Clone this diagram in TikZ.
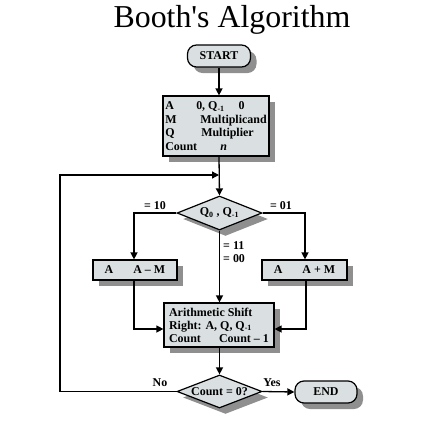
\documentclass[tikz,border=0pt]{standalone}
\usepackage{fontspec}
\setmainfont{Liberation Serif}
\usetikzlibrary{shapes.geometric,shadows,arrows.meta}
\definecolor{boxfill}{RGB}{218,224,226}
\definecolor{shadowgray}{RGB}{115,115,115}
\tikzset{
  every node/.style={font=\fontsize{12}{13.5}\selectfont\bfseries},
  shad/.style={drop shadow={shadow xshift=6bp,shadow yshift=-6bp,fill=shadowgray,opacity=0.8}},
  box/.style={draw,line width=1.2bp,fill=boxfill,shad,inner sep=0pt},
  term/.style={box,rounded corners=9bp},
  dia/.style={diamond,draw,line width=1.2bp,fill=boxfill,shad,inner sep=0pt},
  lab/.style={inner sep=0pt},
  conn/.style={line width=1.3bp},
  arr/.style={conn,-{Triangle[length=7bp,width=7bp]}}
}
\begin{document}
\begin{tikzpicture}[x=1bp,y=-1bp]
\useasboundingbox (0,0) rectangle (428,423);
\node[inner sep=0pt,font=\fontsize{32}{34}\selectfont] (title) at (232,20) {Booth{\XeTeXglyph\XeTeXglyphindex "quotesingle"\relax}s Algorithm};
\node[term,minimum width=63bp,minimum height=22bp] (start) at (219,56) {START};
\node[box,minimum width=106bp,minimum height=60bp,align=left,anchor=center] (init) at (216,126)
 {\makebox[31bp][l]{A}0, Q\textsubscript{-1}\hspace{14bp}0\\
  \makebox[35bp][l]{M}Multiplicand\\
  \makebox[36bp][l]{Q}Multiplier\\
  \makebox[55bp][l]{Count}\textit{n}};
\coordinate (join) at (219,175);
\node[dia,minimum width=85bp,minimum height=34bp] (d1) at (219.5,213) {\makebox[0pt]{Q\textsubscript{0} , Q\textsubscript{-1}}};
\node[box,minimum width=84bp,minimum height=20bp] (sub) at (135,270) {A\hspace{20bp}A -- M};
\node[box,minimum width=85bp,minimum height=20bp] (add) at (304.5,270) {A\hspace{20bp}A + M};
\node[box,minimum width=110bp,minimum height=44bp,align=left,font=\fontsize{12}{13}\selectfont\bfseries] (shift) at (219,325)
 {Arithmetic Shift\\ Right: A, Q, Q\textsubscript{-1}\\ \makebox[50bp][l]{Count}Count -- 1};
\node[dia,minimum width=85bp,minimum height=33bp] (d2) at (219.5,391.5) {\makebox[0pt]{Count = 0?}};
\node[term,minimum width=62bp,minimum height=22bp] (end) at (326,392) {END};
\coordinate (lt) at (134,213);
\coordinate (rt) at (305,213);
\coordinate (lb) at (134,329);
\coordinate (rb) at (306,329);
\coordinate (loopb) at (60,391.5);
\coordinate (loopt) at (60,175);
\node[lab] (l10) at (155,206) {= 10};
\node[lab] (l01) at (281,206) {= 01};
\node[lab,anchor=west,align=left,font=\fontsize{12}{13}\selectfont\bfseries] (l11) at (223,252) {= 11\\= 00};
\node[lab] (lno) at (160,383) {No};
\node[lab] (lyes) at (272,383) {Yes};
\draw[arr] (start.south) -- (init.north -| start.south);
\draw[arr] (init.south -| join) -- (d1.north);
\draw[arr] (d1.west) -- (lt) -- (sub.north -| lt);
\draw[arr] (d1.east) -- (rt) -- (add.north -| rt);
\draw[arr] (d1.south) -- (shift.north -| d1.south);
\draw[arr] (sub.south -| lb) -- (lb) -- (shift.west |- lb);
\draw[arr] (add.south -| rb) -- (rb) -- (shift.east |- rb);
\draw[arr] (shift.south -| d2.north) -- (d2.north);
\draw[arr] (d2.east) -- (end.west);
\draw[arr] (d2.west) -- (loopb) -- (loopt) -- (join);
\end{tikzpicture}
\end{document}
